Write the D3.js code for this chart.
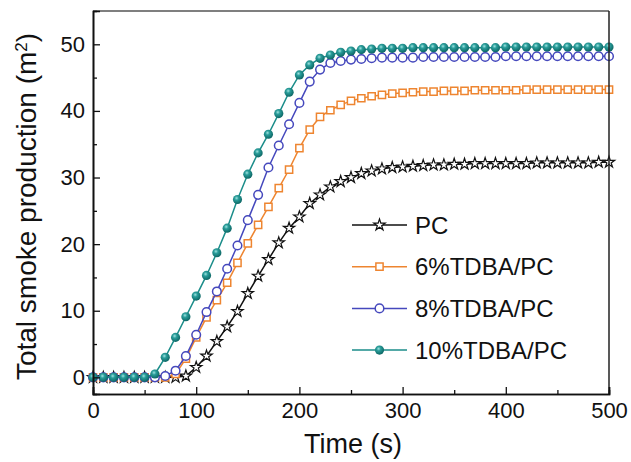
<!DOCTYPE html>
<html>
<head>
<meta charset="utf-8">
<script src="https://cdn.jsdelivr.net/npm/d3@7"></script>
<style>
  body { margin: 0; background: #fff; }
  svg { font-family: "Liberation Sans", Arial, sans-serif; }
  .tick-label { font-size: 22px; fill: #111; }
  .axis-title { font-size: 27px; fill: #111; }
  .legend-label { font-size: 24px; fill: #111; }
</style>
</head>
<body>
<svg id="chart"></svg>
<script>
// Time (s)
const times = [0, 10, 20, 30, 40, 50, 60, 70, 80, 90, 100, 110, 120, 130, 140, 150, 160, 170, 180, 190,
  200, 210, 220, 230, 240, 250, 260, 270, 280, 290, 300, 310, 320, 330, 340, 350, 360, 370, 380, 390,
  400, 410, 420, 430, 440, 450, 460, 470, 480, 490, 500];

// Total smoke production (m2), one value per time
const pc = [0, 0, 0, 0, 0, 0, 0, 0, 0, 0.2, 1.5, 3.2, 5.4, 7.6, 9.9, 12.6, 15.2, 17.7, 20.2, 22.4,
  24.1, 26.1, 27.4, 28.6, 29.4, 30.0, 30.6, 31.0, 31.3, 31.5, 31.6, 31.7, 31.8, 31.9, 31.9, 32.0, 32.0, 32.1, 32.1, 32.1,
  32.1, 32.1, 32.1, 32.2, 32.2, 32.2, 32.2, 32.2, 32.2, 32.3, 32.3];
const tdba6 = [0, 0, 0, 0, 0, 0, 0, 0, 0.5, 2.8, 6.0, 9.0, 11.6, 14.2, 17.2, 20.1, 22.9, 25.6, 28.4, 31.2,
  34.4, 37.2, 39.1, 40.1, 40.9, 41.5, 41.9, 42.2, 42.4, 42.6, 42.7, 42.8, 42.9, 42.9, 43.0, 43.0, 43.0, 43.1, 43.1, 43.1,
  43.1, 43.1, 43.2, 43.2, 43.2, 43.2, 43.2, 43.2, 43.2, 43.2, 43.2];
const tdba8 = [0, 0, 0, 0, 0, 0, 0, 0.2, 1.0, 3.2, 6.4, 9.8, 12.9, 16.3, 19.8, 23.6, 27.4, 31.5, 34.8, 38.0,
  41.2, 44.4, 46.2, 47.2, 47.5, 47.7, 47.8, 47.9, 48.0, 48.0, 48.0, 48.0, 48.1, 48.1, 48.1, 48.1, 48.1, 48.1, 48.1, 48.1,
  48.2, 48.2, 48.2, 48.2, 48.2, 48.2, 48.2, 48.2, 48.2, 48.2, 48.2];
const tdba10 = [0, 0, 0, 0, 0, 0, 0.5, 3.0, 6.0, 9.1, 12.2, 15.3, 18.7, 22.4, 26.7, 30.5, 33.7, 36.5, 39.6, 42.8,
  45.4, 46.9, 47.9, 48.4, 48.8, 49.0, 49.2, 49.3, 49.4, 49.4, 49.4, 49.5, 49.5, 49.5, 49.5, 49.5, 49.5, 49.5, 49.5, 49.5,
  49.6, 49.6, 49.6, 49.6, 49.6, 49.6, 49.6, 49.6, 49.6, 49.6, 49.6];

const seriesNames = ['PC', '6%TDBA/PC', '8%TDBA/PC', '10%TDBA/PC'];
const seriesValues = [pc, tdba6, tdba8, tdba10];

const xTicks = [0, 100, 200, 300, 400, 500];
const yTicks = [0, 10, 20, 30, 40, 50];

class SmokeChart {

  constructor(_config) {
    this.config = {
      parentElement: _config.parentElement,
      containerWidth: _config.containerWidth || 631,
      containerHeight: _config.containerHeight || 462,
      margin: _config.margin || {top: 11, right: 22, bottom: 68, left: 93}
    };
    this.initVis();
  }

  initVis() {
    let vis = this;

    vis.width = vis.config.containerWidth - vis.config.margin.left - vis.config.margin.right;
    vis.height = vis.config.containerHeight - vis.config.margin.top - vis.config.margin.bottom;

    vis.xScale = d3.scaleLinear().domain([0, 500]).range([0, vis.width]);
    vis.yScale = d3.scaleLinear().domain([-2.5, 55]).range([vis.height, 0]);

    vis.svg = d3.select(vis.config.parentElement)
        .attr('width', vis.config.containerWidth)
        .attr('height', vis.config.containerHeight);

    // shaded ball for the 10% series
    const grad = vis.svg.append('defs').append('radialGradient')
        .attr('id', 'ball')
        .attr('cx', '40%').attr('cy', '35%').attr('r', '65%');
    grad.append('stop').attr('offset', '0%').attr('stop-color', '#9fe3e0');
    grad.append('stop').attr('offset', '35%').attr('stop-color', '#2a9d9a');
    grad.append('stop').attr('offset', '100%').attr('stop-color', '#0c6664');

    vis.chart = vis.svg.append('g')
        .attr('transform', `translate(${vis.config.margin.left},${vis.config.margin.top})`);

    vis.styles = [
      {color: '#111111', symbol: d3.symbolStar, size: 40, fill: '#ffffff', sw: 1.2},
      {color: '#ee8530', symbol: d3.symbolSquare, size: 52, fill: '#ffffff', sw: 1.5},
      {color: '#4548bd', symbol: d3.symbolCircle, size: 58, fill: '#ffffff', sw: 1.5},
      {color: '#1b8d8a', symbol: d3.symbolCircle, size: 66, fill: 'url(#ball)', sw: 0}
    ];

    // axis titles
    const yTitle = vis.svg.append('text')
        .attr('class', 'axis-title')
        .style('font-size', '28px')
        .attr('transform', `translate(36,${vis.config.margin.top + vis.height / 2 + 4}) rotate(-90)`)
        .attr('text-anchor', 'middle');
    yTitle.append('tspan').text('Total smoke production (m');
    yTitle.append('tspan').attr('baseline-shift', 'super').style('font-size', '17px').text('2');
    yTitle.append('tspan').text(')');

    vis.svg.append('text')
        .attr('class', 'axis-title')
        .attr('x', vis.config.margin.left + vis.width / 2 + 2)
        .attr('y', 453)
        .attr('text-anchor', 'middle')
        .text('Time (s)');
  }

  renderVis() {
    let vis = this;

    const line = d3.line()
        .x((d, i) => vis.xScale(times[i]))
        .y(d => vis.yScale(d));

    seriesValues.forEach((vals, k) => {
      const st = vis.styles[k];
      const g = vis.chart.append('g');
      g.append('path')
          .datum(vals)
          .attr('d', line)
          .attr('fill', 'none')
          .attr('stroke', st.color)
          .attr('stroke-width', 1.5);
      g.selectAll('.pt')
          .data(vals)
        .join('path')
          .attr('class', 'pt')
          .attr('transform', (d, i) => `translate(${vis.xScale(times[i])},${vis.yScale(d)})`)
          .attr('d', d3.symbol().type(st.symbol).size(st.size))
          .attr('fill', st.fill)
          .attr('stroke', st.sw ? st.color : 'none')
          .attr('stroke-width', st.sw);
    });

    // frame
    vis.chart.append('line')
        .attr('x1', 0).attr('x2', vis.width).attr('y1', 0).attr('y2', 0)
        .attr('stroke', '#555').attr('stroke-width', 1.5);
    vis.chart.append('line')
        .attr('x1', vis.width).attr('x2', vis.width).attr('y1', 0).attr('y2', vis.height)
        .attr('stroke', '#222').attr('stroke-width', 1.5);

    // axes with inward ticks
    const xAxis = d3.axisBottom(vis.xScale).tickValues(xTicks).tickSize(-7).tickPadding(8);
    const xMinor = d3.axisBottom(vis.xScale).tickValues([50, 150, 250, 350, 450]).tickSize(-4).tickFormat('');
    const yAxis = d3.axisLeft(vis.yScale).tickValues(yTicks).tickSize(-7).tickPadding(8);
    const yMinor = d3.axisLeft(vis.yScale).tickValues([5, 15, 25, 35, 45]).tickSize(-4).tickFormat('');

    const styleAxis = g => {
      g.select('.domain').attr('stroke', '#111').attr('stroke-width', 1.6);
      g.selectAll('.tick line').attr('stroke', '#111').attr('stroke-width', 1.3);
      g.selectAll('.tick text').attr('class', 'tick-label').attr('font-size', null).attr('font-family', null);
    };

    vis.chart.append('g').attr('transform', `translate(0,${vis.height})`).call(xMinor).call(styleAxis);
    vis.chart.append('g').attr('transform', `translate(0,${vis.height})`).call(xAxis).call(styleAxis);
    vis.chart.append('g').call(yMinor).call(styleAxis);
    vis.chart.append('g').call(yAxis).call(styleAxis);

    // legend
    const legend = vis.chart.append('g').attr('transform', 'translate(259,214)');
    seriesNames.forEach((name, k) => {
      const st = vis.styles[k];
      const row = legend.append('g').attr('transform', `translate(0,${k * 41.7})`);
      row.append('line')
          .attr('x1', 0).attr('x2', 55)
          .attr('stroke', st.color).attr('stroke-width', 1.5);
      row.append('path')
          .attr('transform', 'translate(27.5,0)')
          .attr('d', d3.symbol().type(st.symbol).size(st.size))
          .attr('fill', st.fill)
          .attr('stroke', st.sw ? st.color : 'none')
          .attr('stroke-width', st.sw);
      row.append('text')
          .attr('class', 'legend-label')
          .attr('x', 63)
          .attr('dy', '0.36em')
          .text(name);
    });
  }
}

const chart = new SmokeChart({parentElement: '#chart'});
chart.renderVis();
</script>
</body>
</html>
